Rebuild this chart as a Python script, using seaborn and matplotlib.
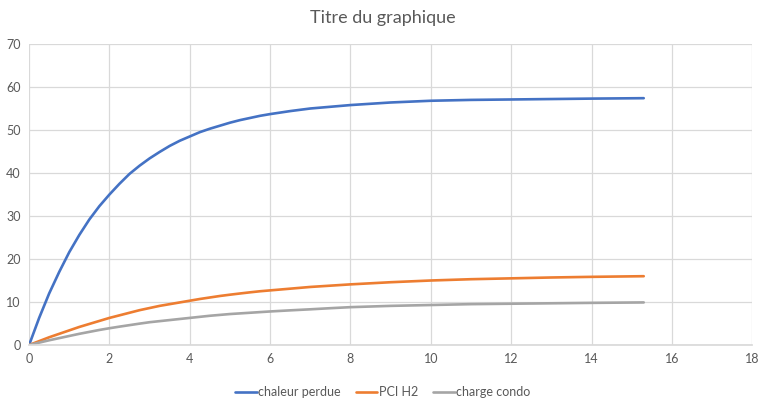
import matplotlib
matplotlib.use("Agg")
import matplotlib.pyplot as plt
import seaborn as sns
import pandas as pd

x_vals = [0, 0.25, 0.5, 0.75, 1, 1.25, 1.5, 1.75, 2, 2.25, 2.5, 2.75, 3, 3.25, 3.5, 3.75,
          4, 4.25, 4.5, 4.75, 5, 5.25, 5.5, 5.75, 6, 6.5, 7, 7.5, 8, 9, 10, 11, 12, 13, 14, 15.3]
chaleur_perdue = [0, 6.3, 12.0, 17.0, 21.6, 25.6, 29.2, 32.3, 35.0, 37.5, 39.8, 41.7, 43.4, 44.9,
                  46.3, 47.5, 48.5, 49.5, 50.3, 51.0, 51.7, 52.3, 52.8, 53.3, 53.7, 54.4, 55.0,
                  55.4, 55.8, 56.4, 56.8, 57.0, 57.1, 57.2, 57.3, 57.4]
pci_h2 = [0, 0.9, 1.8, 2.6, 3.4, 4.2, 4.9, 5.6, 6.3, 6.9, 7.5, 8.1, 8.6, 9.1, 9.5, 9.9,
          10.3, 10.7, 11.05, 11.4, 11.7, 11.98, 12.25, 12.5, 12.7, 13.1, 13.5, 13.8, 14.1, 14.6,
          15.0, 15.3, 15.5, 15.7, 15.85, 16.0]
charge_condo = [0, 0.55, 1.1, 1.6, 2.1, 2.6, 3.05, 3.5, 3.9, 4.27, 4.62, 4.97, 5.3, 5.55, 5.8,
                6.05, 6.3, 6.55, 6.8, 7.0, 7.2, 7.35, 7.5, 7.65, 7.8, 8.06, 8.3, 8.56, 8.8, 9.1,
                9.3, 9.5, 9.6, 9.7, 9.8, 9.9]
series_names = ["chaleur perdue", "PCI H2", "charge condo"]
colors = ["#4472C4", "#ED7D31", "#A5A5A5"]
title = "Titre du graphique"
x_ticks = list(range(0, 19, 2))
y_ticks = list(range(0, 71, 10))

df = pd.DataFrame({"x": x_vals * 3,
                   "y": chaleur_perdue + pci_h2 + charge_condo,
                   "serie": [series_names[0]] * len(x_vals) + [series_names[1]] * len(x_vals)
                            + [series_names[2]] * len(x_vals)})

sns.set_theme(style="white")
plt.rcParams["font.family"] = ["Lato", "DejaVu Sans"]

fig = plt.figure(figsize=(7.66, 4.0), dpi=100)
ax = fig.add_axes([0.038, 0.1375, 0.944, 0.7525])

sns.lineplot(data=df, x="x", y="y", hue="serie", hue_order=series_names,
             palette=colors, linewidth=1.9, ax=ax, legend=True)

ax.set_xlim(0, 18)
ax.set_ylim(0, 70)
ax.set_xticks(x_ticks)
ax.set_yticks(y_ticks)
ax.grid(True, color="#D9D9D9", linewidth=0.9)
ax.set_axisbelow(True)
for s in ["top", "right", "left"]:
    ax.spines[s].set_visible(False)
ax.spines["bottom"].set_color("#D9D9D9")
ax.tick_params(axis="both", colors="#595959", labelsize=9, length=0, pad=6)
ax.set_xlabel("")
ax.set_ylabel("")

fig.suptitle(title, x=0.5, y=0.975, fontsize=13, color="#595959")

handles, labels = ax.get_legend_handles_labels()
ax.legend(handles, labels, loc="center", bbox_to_anchor=(0.5, 0.02),
          bbox_transform=fig.transFigure, ncol=3, frameon=False, fontsize=9,
          handlelength=1.7, columnspacing=1.2, handletextpad=0.15,
          labelcolor="#595959")

fig.savefig("out.png", dpi=100)
